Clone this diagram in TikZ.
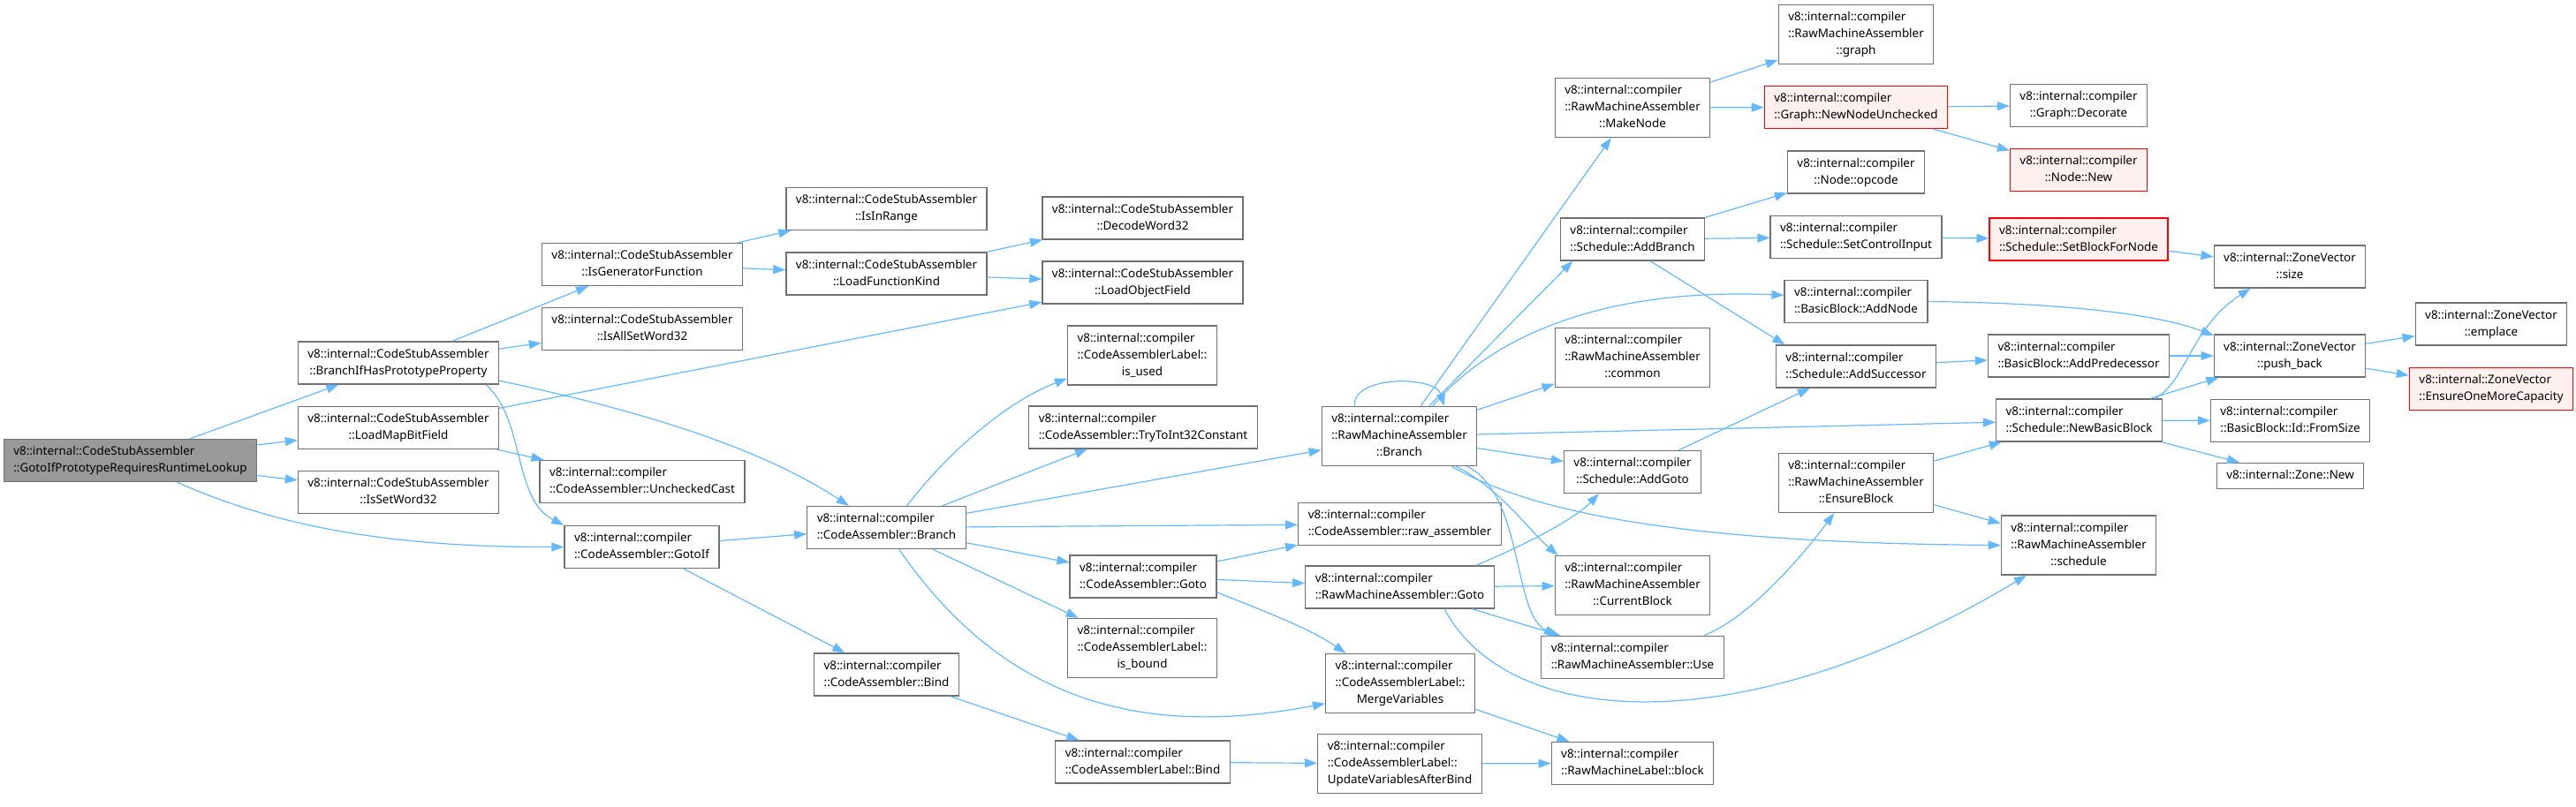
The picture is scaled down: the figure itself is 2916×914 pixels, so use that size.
\documentclass[tikz,border=0pt]{standalone}
\usepackage{fontspec}
\setmainfont{Noto Sans}
\usepackage{tikz}
\usetikzlibrary{arrows.meta}
\usepackage{xcolor}
\definecolor{edgeblue}{HTML}{63B8FF}
\definecolor{boxline}{HTML}{707070}
\definecolor{rootfill}{HTML}{999999}
\definecolor{truncfill}{HTML}{FFF0F0}
\newcommand{\fnlabel}[2]{\begin{tabular}{@{}l@{}}#1\\\multicolumn{1}{@{}c@{}}{#2}\end{tabular}}

\begin{document}
\begin{tikzpicture}[x=0.5pt, y=-0.5pt,
    fn/.style={draw=boxline, line width=0.65pt, fill=white, inner xsep=5.5pt, inner ysep=2.5pt, font=\fontsize{6.7}{9.5}\selectfont},
    rootfn/.style={fn, fill=rootfill},
    redfn/.style={fn, draw=red, fill=truncfill},
    call/.style={draw=edgeblue, line width=0.6pt, -{Triangle[length=7pt, width=5pt]}}]
            \useasboundingbox (0,0) rectangle (2916,914);

            \node[rootfn] (root) at (147.5,521.5) {\fnlabel{v8::internal::CodeStubAssembler}{::GotoIfPrototypeRequiresRuntimeLookup}};

            \node[fn] (bihp) at (451,411) {\fnlabel{v8::internal::CodeStubAssembler}{::BranchIfHasPrototypeProperty}};
            \node[fn] (lmbf) at (451,484.5) {\fnlabel{v8::internal::CodeStubAssembler}{::LoadMapBitField}};
            \node[fn] (isw) at (451,557.5) {\fnlabel{v8::internal::CodeStubAssembler}{::IsSetWord32}};

            \node[fn] (igf) at (727,299.5) {\fnlabel{v8::internal::CodeStubAssembler}{::IsGeneratorFunction}};
            \node[fn] (iasw) at (727,372.5) {\fnlabel{v8::internal::CodeStubAssembler}{::IsAllSetWord32}};
            \node[fn] (ucast) at (727,545.5) {\fnlabel{v8::internal::compiler}{::CodeAssembler::UncheckedCast}};
            \node[fn] (gotoif) at (726.5,619.5) {\fnlabel{v8::internal::compiler}{::CodeAssembler::GotoIf}};

            \node[fn] (iir) at (1003.5,236.5) {\fnlabel{v8::internal::CodeStubAssembler}{::IsInRange}};
            \node[fn] (lfk) at (1003.5,310) {\fnlabel{v8::internal::CodeStubAssembler}{::LoadFunctionKind}};
            \node[fn] (cabr) at (1003.5,597.5) {\fnlabel{v8::internal::compiler}{::CodeAssembler::Branch}};
            \node[fn] (cabind) at (1003.5,764) {\fnlabel{v8::internal::compiler}{::CodeAssembler::Bind}};

            \node[fn] (dw32) at (1293.5,247) {\fnlabel{v8::internal::CodeStubAssembler}{::DecodeWord32}};
            \node[fn] (lof) at (1293.5,320) {\fnlabel{v8::internal::CodeStubAssembler}{::LoadObjectField}};
            \node[fn] (isused) at (1293,402.5) {\fnlabel{v8::internal::compiler\\::CodeAssemblerLabel::}{is\_used}};
            \node[fn] (tti32) at (1294,484) {\fnlabel{v8::internal::compiler}{::CodeAssembler::TryToInt32Constant}};
            \node[fn] (cagoto) at (1294,653) {\fnlabel{v8::internal::compiler}{::CodeAssembler::Goto}};
            \node[fn] (isbound) at (1293,734) {\fnlabel{v8::internal::compiler\\::CodeAssemblerLabel::}{is\_bound}};
            \node[fn] (calbind) at (1293.5,863) {\fnlabel{v8::internal::compiler}{::CodeAssemblerLabel::Bind}};

            \node[fn] (rmabr) at (1584,494) {\fnlabel{v8::internal::compiler\\::RawMachineAssembler}{::Branch}};
            \node[fn] (rawasm) at (1584.5,593.5) {\fnlabel{v8::internal::compiler}{::CodeAssembler::raw\_assembler}};
            \node[fn] (rmagoto) at (1584.5,665) {\fnlabel{v8::internal::compiler}{::RawMachineAssembler::Goto}};
            \node[fn] (merge) at (1585,774) {\fnlabel{v8::internal::compiler\\::CodeAssemblerLabel::}{MergeVariables}};
            \node[fn] (uvab) at (1584.5,865) {\fnlabel{v8::internal::compiler\\::CodeAssemblerLabel::}{UpdateVariablesAfterBind}};

            \node[fn] (makenode) at (1848,122) {\fnlabel{v8::internal::compiler\\::RawMachineAssembler}{::MakeNode}};
            \node[fn] (addbr) at (1848,271) {\fnlabel{v8::internal::compiler}{::Schedule::AddBranch}};
            \node[fn] (common) at (1848,405) {\fnlabel{v8::internal::compiler\\::RawMachineAssembler}{::common}};
            \node[fn] (addgoto) at (1848,534.5) {\fnlabel{v8::internal::compiler}{::Schedule::AddGoto}};
            \node[fn] (curblk) at (1848,663) {\fnlabel{v8::internal::compiler\\::RawMachineAssembler}{::CurrentBlock}};
            \node[fn] (use) at (1848,744.5) {\fnlabel{v8::internal::compiler}{::RawMachineAssembler::Use}};
            \node[fn] (rmlblock) at (1848,864.5) {\fnlabel{v8::internal::compiler}{::RawMachineLabel::block}};

            \node[fn] (graph) at (2101,39) {\fnlabel{v8::internal::compiler\\::RawMachineAssembler}{::graph}};
            \node[redfn] (nnu) at (2101,121.5) {\fnlabel{v8::internal::compiler}{::Graph::NewNodeUnchecked}};
            \node[fn] (opcode) at (2101,195) {\fnlabel{v8::internal::compiler}{::Node::opcode}};
            \node[fn] (setci) at (2101,268.5) {\fnlabel{v8::internal::compiler}{::Schedule::SetControlInput}};
            \node[fn] (addnode) at (2101,341.5) {\fnlabel{v8::internal::compiler}{::BasicBlock::AddNode}};
            \node[fn] (addsucc) at (2101,415) {\fnlabel{v8::internal::compiler}{::Schedule::AddSuccessor}};
            \node[fn] (ensblk) at (2101,547) {\fnlabel{v8::internal::compiler\\::RawMachineAssembler}{::EnsureBlock}};

            \node[fn] (decorate) at (2353,119.5) {\fnlabel{v8::internal::compiler}{::Graph::Decorate}};
            \node[redfn] (nodenew) at (2353,192.5) {\fnlabel{v8::internal::compiler}{::Node::New}};
            \node[redfn] (setbfn) at (2353,271) {\fnlabel{v8::internal::compiler}{::Schedule::SetBlockForNode}};
            \node[fn] (addpred) at (2353,403) {\fnlabel{v8::internal::compiler}{::BasicBlock::AddPredecessor}};
            \node[fn] (newbb) at (2353.5,476) {\fnlabel{v8::internal::compiler}{::Schedule::NewBasicBlock}};
            \node[fn] (schedule) at (2353,617.5) {\fnlabel{v8::internal::compiler\\::RawMachineAssembler}{::schedule}};

            \node[fn] (zvsize) at (2592,302) {\fnlabel{v8::internal::ZoneVector}{::size}};
            \node[fn] (pushback) at (2592,403) {\fnlabel{v8::internal::ZoneVector}{::push\_back}};
            \node[fn] (fromsize) at (2592.5,476.5) {\fnlabel{v8::internal::compiler}{::BasicBlock::Id::FromSize}};
            \node[fn] (zonenew) at (2592.5,539) {\strut v8::internal::Zone::New};

            \node[fn] (emplace) at (2820,367) {\fnlabel{v8::internal::ZoneVector}{::emplace}};
            \node[redfn] (eomc) at (2820,440.5) {\fnlabel{v8::internal::ZoneVector}{::EnsureOneMoreCapacity}};

            \draw[call] (root) -- (bihp);
            \draw[call] (root) -- (lmbf);
            \draw[call] (root) -- (isw);
            \draw[call] (root.-25) .. controls (300,590) and (420,620) .. (gotoif.west);

            \draw[call] (bihp) -- (igf);
            \draw[call] (bihp) -- (iasw);
            \draw[call] (bihp.-10) .. controls (700,460) and (850,500) .. (cabr.150);
            \draw[call] (bihp.-14) .. controls (595,475) and (580,565) .. (gotoif.north west);
            \draw[call] (lmbf) -- (lof);
            \draw[call] (lmbf) -- (ucast);

            \draw[call] (igf) -- (iir);
            \draw[call] (igf) -- (lfk);
            \draw[call] (lfk) -- (dw32);
            \draw[call] (lfk) -- (lof);
            \draw[call] (gotoif) -- (cabr);
            \draw[call] (gotoif) -- (cabind);

            \draw[call] (cabr.47) .. controls (1075,510) and (1140,455) .. (isused.-163);
            \draw[call] (cabr) -- (tti32);
            \draw[call] (cabr) -- (rmabr);
            \draw[call] (cabr) -- (rawasm);
            \draw[call] (cabr) -- (cagoto);
            \draw[call] (cabr) -- (isbound);
            \draw[call] (cabr.-60) .. controls (1140,800) and (1300,835) .. (merge.195);
            \draw[call] (cabind) -- (calbind);

            \draw[call] (cagoto) -- (rawasm);
            \draw[call] (cagoto) -- (rmagoto);
            \draw[call] (cagoto.-12) .. controls (1420,688) and (1480,710) .. (merge.151);
            \draw[call] (calbind) -- (uvab);

            \draw[call] (rmabr.146) .. controls (1530,425) and (1625,425) .. (rmabr.34);
            \draw[call] (rmabr) -- (makenode);
            \draw[call] (rmabr) -- (addbr.-160);
            \draw[call] (rmabr.42) .. controls (1680,390) and (1800,325) .. (addnode.175);
            \draw[call] (rmabr) -- (common);
            \draw[call] (rmabr) -- (newbb);
            \draw[call] (rmabr) -- (addgoto);
            \draw[call] (rmabr.-28) .. controls (1700,555) and (1730,600) .. (curblk.158);
            \draw[call] (rmabr.-24) .. controls (1725,560) and (1712,695) .. (use.164);
            \draw[call] (rmabr.-30) .. controls (1750,590) and (1950,615) .. (schedule.west);

            \draw[call] (rmagoto.16) .. controls (1720,620) and (1780,590) .. (addgoto.-147);
            \draw[call] (rmagoto) -- (curblk);
            \draw[call] (rmagoto) -- (use);
            \draw[call] (rmagoto.-26) .. controls (1710,830) and (1980,840) .. (schedule.-150);
            \draw[call] (merge) -- (rmlblock);
            \draw[call] (uvab) -- (rmlblock);

            \draw[call] (makenode) -- (graph);
            \draw[call] (makenode) -- (nnu);
            \draw[call] (addbr) -- (opcode);
            \draw[call] (addbr) -- (setci);
            \draw[call] (addbr.-51) -- (addsucc.163);
            \draw[call] (addgoto) -- (addsucc);
            \draw[call] (use.17) .. controls (1980,700) and (2040,630) .. (ensblk.-126);

            \draw[call] (nnu) -- (decorate);
            \draw[call] (nnu) -- (nodenew);
            \draw[call] (setci) -- (setbfn);
            \draw[call] (addnode.east) .. controls (2330,343) and (2440,355) .. (pushback.165);
            \draw[call] (addsucc) -- (addpred);
            \draw[call] (ensblk) -- (newbb);
            \draw[call] (ensblk) -- (schedule);

            \draw[call] (setbfn) -- (zvsize);
            \draw[call] (addpred) -- (pushback);
            \draw[call] (newbb.16) .. controls (2475,432) and (2480,370) .. (zvsize.-151);
            \draw[call] (newbb) -- (pushback);
            \draw[call] (newbb) -- (fromsize);
            \draw[call] (newbb) -- (zonenew);

            \draw[call] (pushback) -- (emplace);
            \draw[call] (pushback) -- (eomc);
\end{tikzpicture}
\end{document}
